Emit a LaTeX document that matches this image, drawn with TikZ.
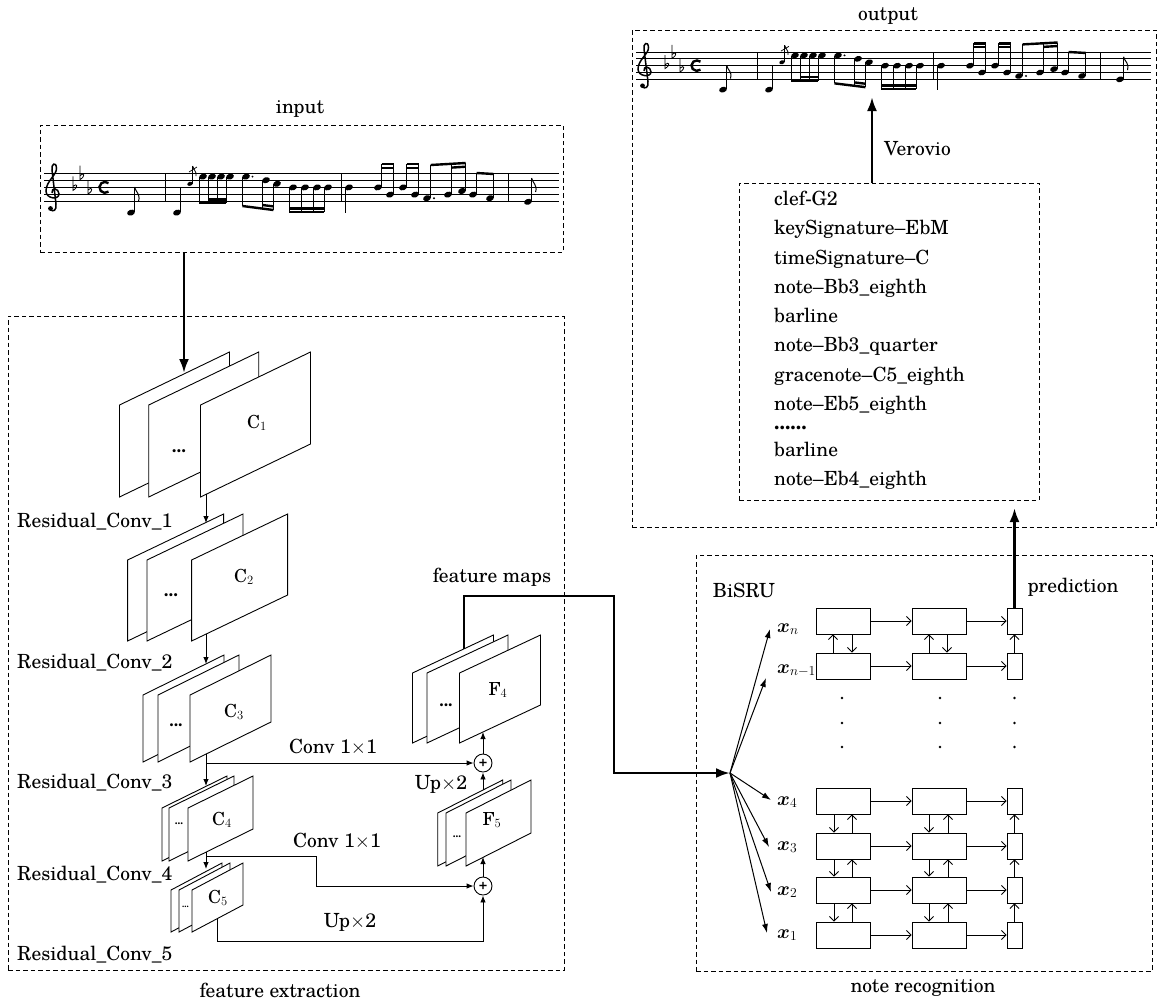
\RequirePackage{fix-cm}
\documentclass[tikz,border=0pt]{standalone}
\usepackage{fontspec}
\setmainfont{TeX Gyre Schola}
\usepackage{bm}
\usetikzlibrary{arrows.meta}

\newcommand{\plate}[5]{\filldraw[plate] (#1,#2) -- ++(0,-#5) -- ++(#3,-#4) -- ++(0,#5) -- cycle;}
\newcommand{\nhead}[2]{\fill[rotate around={20:(#1,#2)}] (#1,#2) ellipse (4pt and 2.9pt);}
\newcommand{\stemup}[3]{\draw[line width=0.8pt] (#1+3.6,#2) -- (#1+3.6,#3);}
\newcommand{\stemdn}[3]{\draw[line width=0.8pt] (#1-3.6,#2) -- (#1-3.6,#3);}
\newcommand{\mbeam}[4]{\draw[line width=2.4pt] (#1,#2) -- (#3,#4);}
\newcommand{\flagup}[2]{\draw[line width=1pt] (#1,#2) .. controls (#1+1,#2+5) and (#1+6,#2+7) .. (#1+4,#2+14);}
\newcommand{\flatsym}[2]{\draw[line width=0.8pt] (#1,#2-11) -- (#1,#2+3) .. controls (#1+6,#2-0.5) and (#1+4,#2-5) .. (#1,#2-1);}
\newcommand{\barl}[1]{\draw[line width=0.9pt] (#1,0) -- (#1,28.8);}

\newcommand{\musicscore}{%
\foreach \yy in {0,7.2,14.4,21.6,28.8} {\draw[line width=0.8pt] (0,\yy) -- (515,\yy);}
% clef
\draw[line width=1.5pt] (6,36) .. controls (9,40) and (13,37) .. (12,31) -- (8,-3) .. controls (7,-9) and (12,-12) .. (12.5,-5) .. controls (13,2) and (2,8) .. (2,18) .. controls (2,26) and (15,27) .. (15,21) .. controls (15,15) and (7,14) .. (8,20);
\fill (6.5,35.5) circle (2.4pt);
\flatsym{29}{14.4}\flatsym{36}{3.6}\flatsym{44}{18}
\draw[line width=2.4pt] (64.5,18.6) arc (50:310:5.5);
% pickup
\nhead{87}{39.6}\stemup{87}{39}{14}\flagup{90.6}{14}
\barl{121}
% measure 1
\nhead{133}{39.6}\stemup{133}{39}{14}
\fill[rotate around={20:(146,10.8)}] (146,10.8) ellipse (2.8pt and 2pt);
\draw[line width=0.7pt] (148.6,10.5) -- (148.6,-7);
\draw[line width=0.8pt] (148.6,-7) .. controls (149,-3) and (153,-2) .. (152,3);
\draw[line width=0.7pt] (145,-1) -- (153,-6);
\foreach \xx in {159,168,177,186} {\nhead{\xx}{3.6}\stemdn{\xx}{4}{30}}
\mbeam{155.4}{30}{182.4}{30}\mbeam{164.4}{26.3}{182.4}{26.3}
\nhead{202}{3.6}\fill (208.5,3.6) circle (1.1pt);\stemdn{202}{4}{33}
\nhead{222}{7.2}\stemdn{222}{7.5}{35.6}
\nhead{233}{10.8}\stemdn{233}{11}{37}
\mbeam{198.4}{33}{229.4}{37}\mbeam{218.4}{32}{229.4}{33.4}
\foreach \xx in {249,261,273,284} {\nhead{\xx}{14.4}\stemdn{\xx}{15}{39}}
\mbeam{245.4}{39}{280.4}{39}\mbeam{245.4}{35.3}{280.4}{35.3}
\barl{297}
% measure 2
\nhead{305}{14.4}\stemdn{305}{15}{40}
\nhead{334}{14.4}\stemup{334}{14}{-9}\nhead{346}{21.6}\stemup{346}{21}{-9}
\mbeam{337.6}{-9}{349.6}{-9}\mbeam{337.6}{-5.3}{349.6}{-5.3}
\nhead{359}{14.4}\stemup{359}{14}{-9}\nhead{371}{21.6}\stemup{371}{21}{-9}
\mbeam{362.6}{-9}{374.6}{-9}\mbeam{362.6}{-5.3}{374.6}{-5.3}
\nhead{383}{25.2}\fill (390,25.2) circle (1.1pt);\stemup{383}{25}{-8}
\nhead{404}{21.6}\stemup{404}{21}{-9}
\nhead{418}{18}\stemup{418}{18}{-10}
\mbeam{386.6}{-8}{421.6}{-10}\mbeam{407.6}{-5.4}{421.6}{-6.3}
\nhead{429}{21.6}\stemup{429}{21}{0}\nhead{446}{25.2}\stemup{446}{25}{1}
\mbeam{432.6}{0}{449.6}{1}
\barl{464}
% measure 3
\nhead{484}{28.8}\stemup{484}{28}{5}\flagup{487.6}{5}
}

\begin{document}
\begin{tikzpicture}[x=1pt,y=-1pt,
  lbl/.style={font=\fontsize{19.5}{23}\selectfont, inner sep=0pt},
  plbl/.style={font=\fontsize{18}{20}\selectfont, inner sep=0pt},
  dbox/.style={draw, line width=0.9pt, dash pattern=on 4.5pt off 3pt, inner sep=0pt, outer sep=0pt},
  plate/.style={draw, fill=white, line width=0.9pt, line join=miter},
  tarrow/.style={line width=0.9pt, -{Latex[length=7pt,width=5.5pt]}},
  bigarrow/.style={line width=2.6pt, line join=miter, -{Latex[length=14pt,width=10pt]}},
  fanarrow/.style={line width=1pt, -{Latex[length=9pt,width=6pt]}},
  barb/.style={line width=0.9pt, -{Straight Barb[length=4.5pt,width=9pt]}},
  cell/.style={draw, line width=0.9pt, minimum width=54pt, minimum height=26pt, inner sep=0pt},
  pcell/.style={draw, line width=0.9pt, minimum width=15pt, minimum height=26pt, inner sep=0pt},
  oplus/.style={draw, circle, line width=0.9pt, minimum size=18pt, inner sep=0pt, font=\bfseries\fontsize{14}{14}\selectfont},
  dots/.style={inner sep=0pt, font=\bfseries\fontsize{#1}{#1}\selectfont}
]
\path[fill=white] (0,0) rectangle (1165,1002);
\useasboundingbox (0,0) rectangle (1165,1002);

% ---------- boxes ----------
\node[dbox, anchor=north west, minimum width=523pt, minimum height=127pt] (inbox) at (40,125) {};
\node[dbox, anchor=north west, minimum width=556pt, minimum height=654pt] (febox) at (8,316) {};
\node[dbox, anchor=north west, minimum width=524pt, minimum height=497pt] (outbox) at (632,30) {};
\node[dbox, anchor=north west, minimum width=300pt, minimum height=317pt] (tokbox) at (739,183) {};
\node[dbox, anchor=north west, minimum width=456pt, minimum height=416pt] (nrbox) at (696,555) {};

% ---------- titles ----------
\node[lbl, anchor=base] (tin) at (300,113) {input};
\node[lbl, anchor=base] (tout) at (888,20) {output};
\node[lbl, anchor=base] (tfe) at (280,997) {feature extraction};
\node[lbl, anchor=base] (tnr) at (923,992) {note recognition};

% ---------- scores ----------
\begin{scope}[shift={(44,173)}]
\musicscore
\end{scope}
\begin{scope}[shift={(636,52)}, yscale=0.95]
\musicscore
\end{scope}

% ---------- feature extraction ----------
\coordinate (c1in) at (184,373);
\draw[bigarrow] (inbox.south -| c1in) -- (c1in);

% C1
\plate{119.5}{497}{110}{53}{92}
\plate{148.7}{497}{110}{53}{92}
\plate{200.5}{497}{110}{53}{92}
\node[plbl] (lc1) at (257,423) {C$_1$};
\node[dots=17] (d1) at (179,451) {...};
% C2
\plate{127.6}{641}{96}{46}{81}
\plate{147}{641}{96}{46}{81}
\plate{191.6}{641}{96}{46}{81}
\node[plbl] (lc2) at (244,577) {C$_2$};
\node[dots=17] (d2) at (171,595) {...};
% C3
\plate{143}{762}{81}{40}{67}
\plate{158}{762}{81}{40}{67}
\plate{190}{762}{81}{40}{67}
\node[plbl] (lc3) at (234,712) {C$_3$};
\node[dots=16] (d3) at (176,725) {...};
% C4
\plate{162}{861}{65}{32}{53}
\plate{169}{861}{65}{32}{53}
\plate{188}{861}{65}{32}{53}
\node[plbl] (lc4) at (222,820) {C$_4$};
\node[dots=10] (d4) at (179,824) {...};
% C5
\plate{171}{932}{51}{27}{42}
\plate{179}{932}{51}{27}{42}
\plate{192}{932}{51}{27}{42}
\node[plbl] (lc5) at (218,898) {C$_5$};
\node[dots=8] (d5) at (185.5,907) {...};
% F4
\plate{412.5}{743}{81}{38}{70}
\plate{427}{743}{81}{38}{70}
\plate{459.5}{743}{81}{38}{70}
\node[plbl] (lf4) at (498,690) {F$_4$};
\node[dots=16] (d6) at (446,705) {...};
% F5
\plate{437.7}{866}{65}{33}{53}
\plate{446}{866}{65}{33}{53}
\plate{466}{866}{65}{33}{53}
\node[plbl] (lf5) at (492,820) {F$_5$};
\node[dots=10] (d7) at (457,837) {...};

% stage labels
\node[lbl, anchor=base west] (r1) at (17,527) {Residual\_Conv\_1};
\node[lbl, anchor=base west] (r2) at (17,668) {Residual\_Conv\_2};
\node[lbl, anchor=base west] (r3) at (17,788) {Residual\_Conv\_3};
\node[lbl, anchor=base west] (r4) at (17,880) {Residual\_Conv\_4};
\node[lbl, anchor=base west] (r5) at (17,960) {Residual\_Conv\_5};

% sum nodes
\node[oplus] (s1) at (483,763) {+};
\node[oplus] (s2) at (483,886) {+};

% connectors
\coordinate (c1out) at (206,494);  \coordinate (c2in) at (206,523);
\coordinate (c2out) at (206,634);  \coordinate (c3in) at (206,664);
\coordinate (c3out) at (206,754);  \coordinate (c4in) at (206,786);
\coordinate (c4out) at (206,852);  \coordinate (c5in) at (206,869);
\coordinate (c5out) at (217.5,919);
\coordinate (br1) at (206,763);
\coordinate (br2) at (206,856);
\coordinate (k2) at (316,886);
\coordinate (u1) at (217.5,941);
\coordinate (f5in) at (483,857);
\coordinate (f5out) at (483,790);
\coordinate (f4in) at (483,732);
\coordinate (f4out) at (464,649);
\coordinate (bend) at (614,596);
\coordinate (fan) at (730,773);

\draw[tarrow] (c1out) -- (c2in);
\draw[tarrow] (c2out) -- (c3in);
\draw[tarrow] (c3out) -- (c4in);
\draw[tarrow] (c4out) -- (c5in);
\draw[tarrow] (br1) -- (s1);
\draw[tarrow] (br2) -| (k2) -- (s2);
\draw[tarrow] (c5out) |- (u1) -| (s2);
\draw[tarrow] (s2) -- (f5in);
\draw[tarrow] (f5out) -- (s1);
\draw[tarrow] (s1) -- (f4in);
\draw[bigarrow] (f4out) |- (bend) |- (fan);

\node[lbl, anchor=base] (cv1) at (333,753) {Conv 1$\times$1};
\node[lbl, anchor=base] (cv2) at (337,847) {Conv 1$\times$1};
\node[lbl, anchor=base] (up1) at (441,789) {Up$\times$2};
\node[lbl, anchor=base] (up2) at (350,927) {Up$\times$2};
\node[lbl, anchor=base] (fm) at (492,582) {feature maps};

% ---------- note recognition ----------
\node[lbl, anchor=base] (bisru) at (744,597) {BiSRU};
\node[lbl, anchor=base] (pred) at (1073,592) {prediction};

\foreach \r/\yy in {6/621,5/666,4/801,3/846,2/890,1/935} {
  \node[cell] (a\r) at (843,\yy) {};
  \node[cell] (b\r) at (939,\yy) {};
  \node[pcell] (p\r) at (1014.5,\yy) {};
  \draw[barb] (a\r) -- (b\r);
  \draw[barb] (b\r) -- (p\r);
}
\draw[barb] ([xshift=-10pt]a5.north) -- ([xshift=-10pt]a6.south);
\draw[barb] ([xshift=9pt]a6.south) -- ([xshift=9pt]a5.north);
\draw[barb] ([xshift=-10pt]b5.north) -- ([xshift=-10pt]b6.south);
\draw[barb] ([xshift=8pt]b6.south) -- ([xshift=8pt]b5.north);
\draw[barb] (p5) -- (p6);
\foreach \u/\l in {4/3,3/2,2/1} {
  \draw[barb] ([xshift=-9pt]a\u.south) -- ([xshift=-9pt]a\l.north);
  \draw[barb] ([xshift=9pt]a\l.north) -- ([xshift=9pt]a\u.south);
  \draw[barb] ([xshift=-10pt]b\u.south) -- ([xshift=-10pt]b\l.north);
  \draw[barb] ([xshift=9pt]b\l.north) -- ([xshift=9pt]b\u.south);
  \draw[barb] (p\l) -- (p\u);
}
\foreach \xx in {842,940,1014.5} {
  \foreach \yy in {698,723,747} {\fill (\xx,\yy) circle (1.4pt);}
}

\node[lbl, anchor=base west] (xn) at (777,632) {$\bm{x}_{n}$};
\node[lbl, anchor=base west] (xm) at (777,673) {$\bm{x}_{n-1}$};
\node[lbl, anchor=base west] (x4) at (777,805) {$\bm{x}_{4}$};
\node[lbl, anchor=base west] (x3) at (777,850) {$\bm{x}_{3}$};
\node[lbl, anchor=base west] (x2) at (777,895) {$\bm{x}_{2}$};
\node[lbl, anchor=base west] (x1) at (777,938) {$\bm{x}_{1}$};

\coordinate (tn) at (770,629);
\coordinate (tm) at (766,678);
\coordinate (t4) at (771,800);
\coordinate (t3) at (769,847);
\coordinate (t2) at (771,892);
\coordinate (t1) at (767,933);
\foreach \t in {tn,tm,t4,t3,t2,t1} {\draw[fanarrow] (fan) -- (\t);}

\coordinate (predtip) at (1014.5,508);
\draw[bigarrow] (p6.north) -- (predtip);

% ---------- output ----------
\coordinate (vtip) at (872,97);
\draw[bigarrow] (tokbox.north -| vtip) -- (vtip);
\node[lbl, anchor=base west] (vero) at (884,155) {Verovio};

\node[lbl, anchor=base west] (k1) at (774,205) {clef-G2};
\node[lbl, anchor=base west] (k2n) at (774,234) {keySignature--EbM};
\node[lbl, anchor=base west] (k3) at (774,264) {timeSignature--C};
\node[lbl, anchor=base west] (k4) at (774,293) {note--Bb3\_eighth};
\node[lbl, anchor=base west] (k5) at (774,322) {barline};
\node[lbl, anchor=base west] (k6) at (774,351) {note--Bb3\_quarter};
\node[lbl, anchor=base west] (k7) at (774,381) {gracenote--C5\_eighth};
\node[lbl, anchor=base west] (k8) at (774,410) {note--Eb5\_eighth};
\node[lbl, anchor=base west] (k9) at (774,429) {\bfseries ......};
\node[lbl, anchor=base west] (k10) at (774,456) {barline};
\node[lbl, anchor=base west] (k11) at (774,485) {note--Eb4\_eighth};
\end{tikzpicture}
\end{document}
